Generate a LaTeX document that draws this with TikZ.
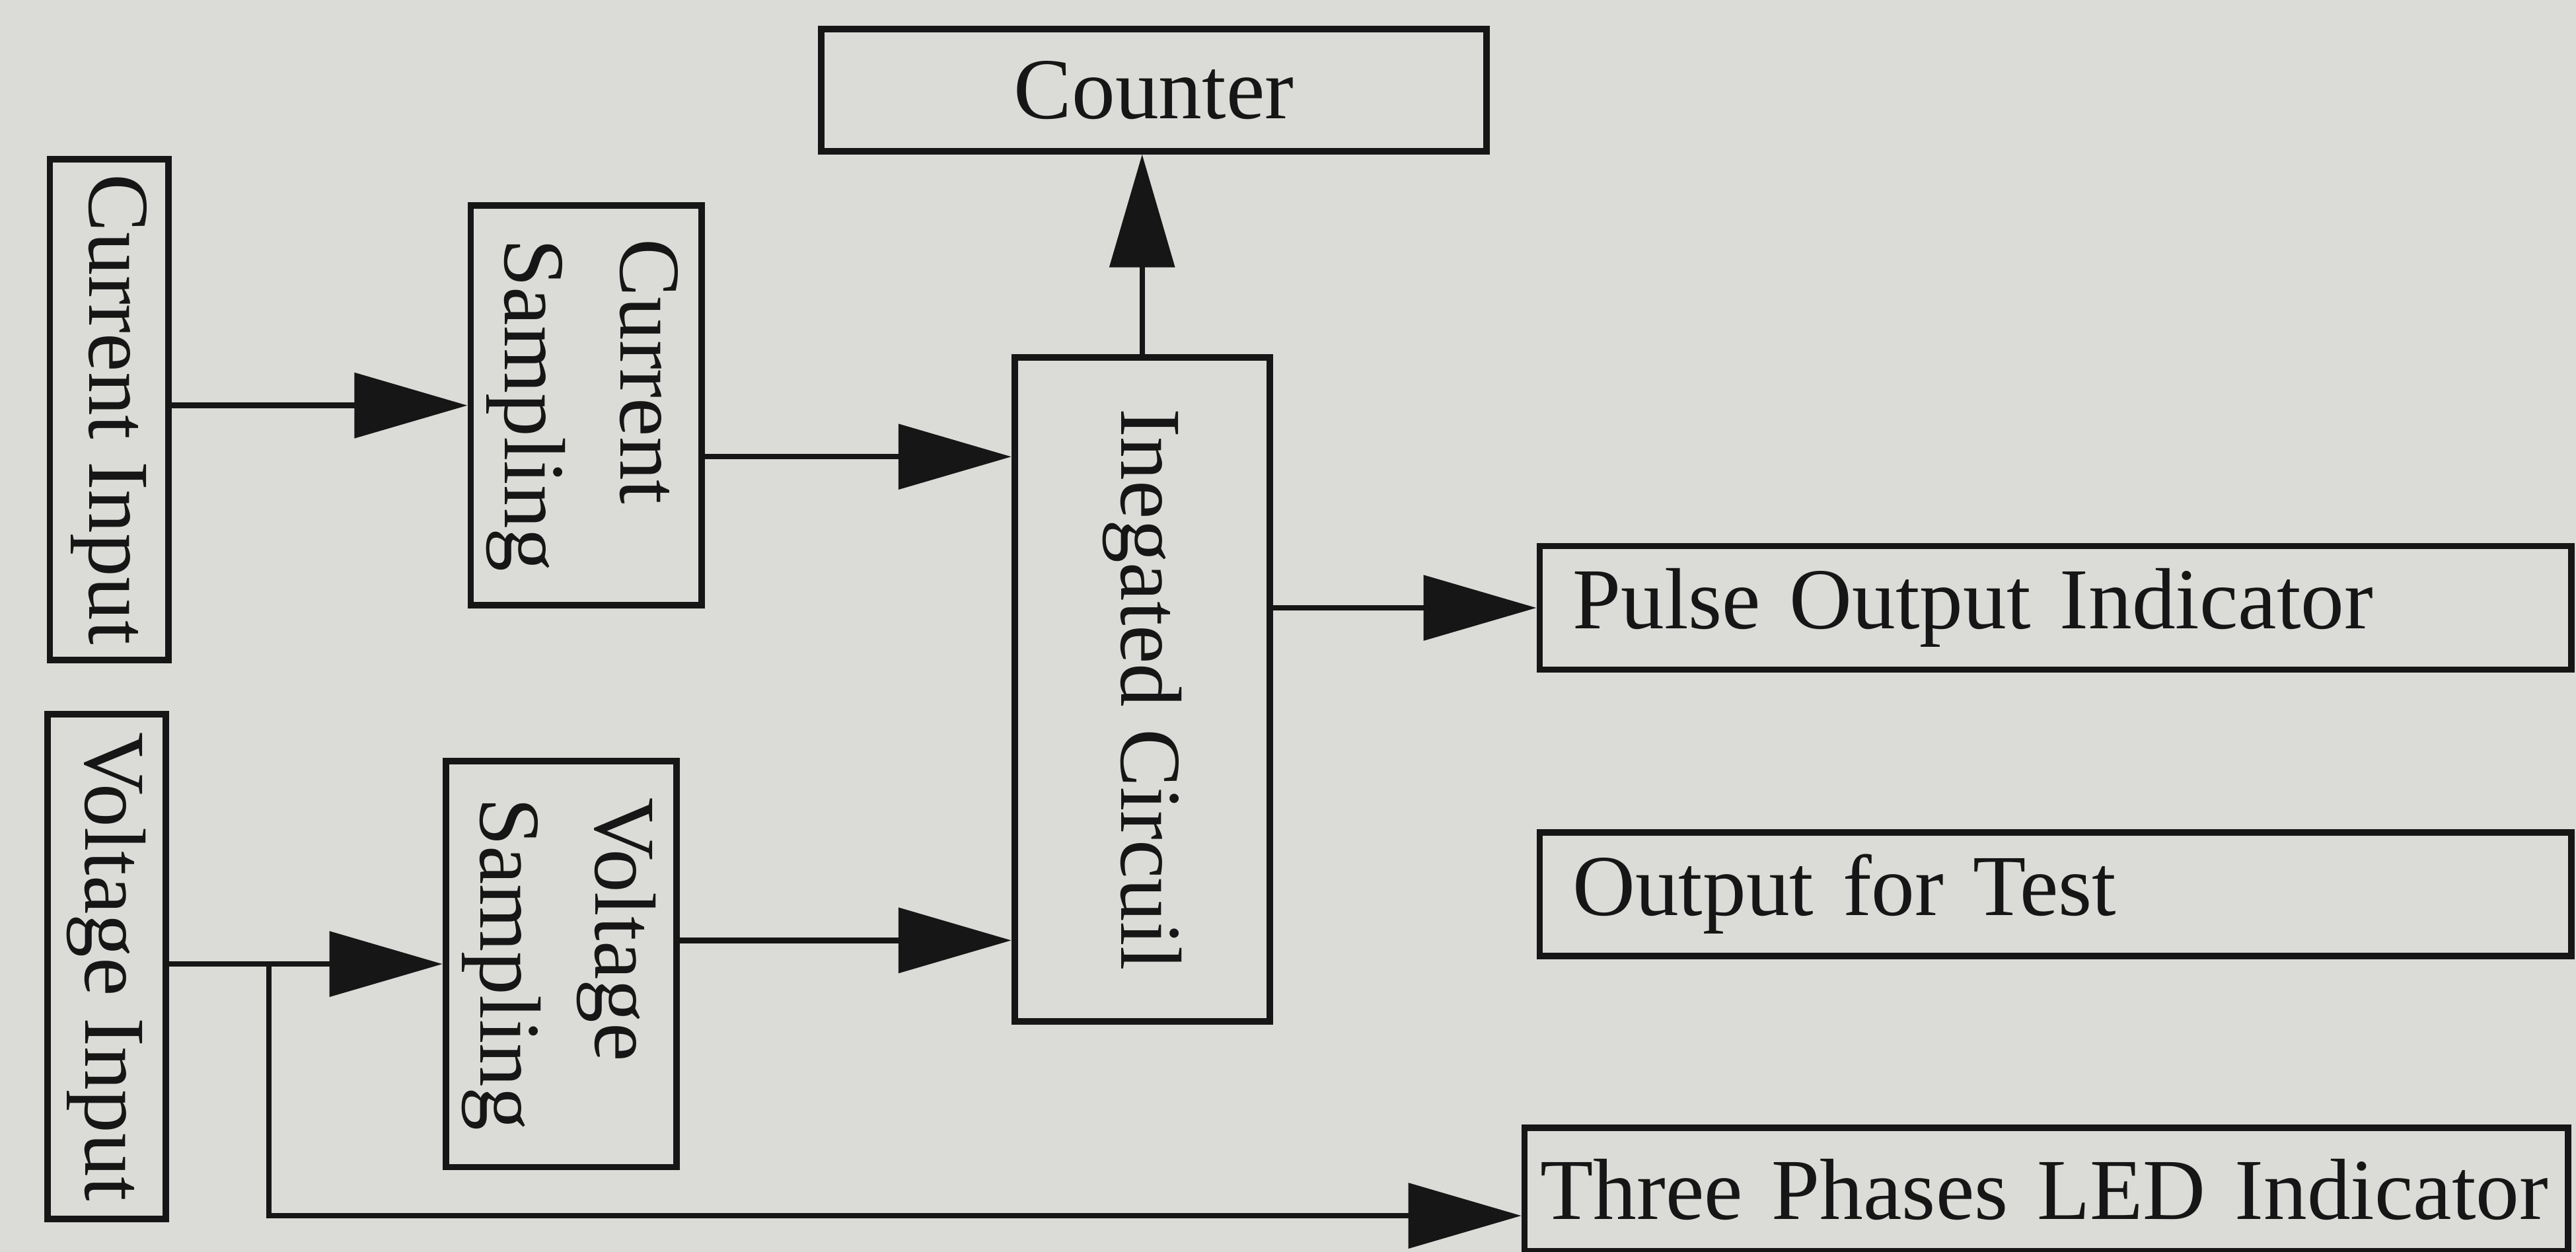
\documentclass[tikz,border=0pt]{standalone}
\usepackage{fontspec}
\setmainfont{Liberation Serif}
\usepackage{graphicx}
\usepackage{tikz}
\usetikzlibrary{arrows.meta,calc}
\definecolor{paper}{RGB}{219,219,216}
\definecolor{ink}{RGB}{22,22,22}
\tikzset{
  blockbox/.style={
    draw=ink,line width=1.4pt,text=ink,inner sep=0pt,align=center,
    font=\fontsize{18.8}{25}\selectfont,
  },
  outbox/.style={
    draw=ink,line width=1.4pt,text=ink,inner xsep=0.25cm,inner ysep=0pt,
    text width=7.35cm,align=left,minimum height=0.94cm,
    font=\fontsize{18.8}{25}\selectfont,
  },
  arr/.style={
    draw=ink,line width=1.2pt,-{Triangle[length=8.6mm,width=4.9mm]},
  },
}

\begin{document}
\begin{tikzpicture}
    \fill[paper] (0,0) rectangle (19.6,9.525);
    \useasboundingbox (0,0) rectangle (19.6,9.525);
    % inputs
    \node[blockbox, minimum width=0.9cm, minimum height=3.81cm] (ci) at (0.83,6.41) {\rotatebox{-90}{Current Input}};
    \node[blockbox, minimum width=0.9cm, minimum height=3.84cm] (vi) at (0.81,2.17) {\rotatebox{-90}{Voltage Input}};
    % sampling
    \node[blockbox, minimum width=1.66cm, minimum height=3.04cm] (cs) at (4.46,6.44) {\rotatebox{-90}{\begin{tabular}{@{}l@{}}Current\\Sampling\end{tabular}}};
    \node[blockbox, minimum width=1.66cm, minimum height=3.09cm] (vs) at (4.27,2.19) {\rotatebox{-90}{\begin{tabular}{@{}l@{}}Voltage\\Sampling\end{tabular}}};
    % middle
    \node[blockbox, minimum width=1.94cm, minimum height=5.05cm] (ic) at (8.69,4.28) {\rotatebox{-90}{Inegated Circuil}};
    \node[blockbox, minimum width=5.06cm, minimum height=0.93cm] (cnt) at (8.78,8.84) {Counter};
    % outputs
    \node[outbox] (po) at (15.64,4.90) {Pulse Output Indicator};
    \node[outbox] (ot) at (15.64,2.72) {Output for Test};
    \node[outbox, inner xsep=0.12cm, text width=7.7cm] (led) at (15.57,0.475) {Three Phases LED Indicator};
    % branch point
    \coordinate (j) at ([xshift=-1.32cm]vs.west);
    % connections
    \draw[arr] (cs.west -| ci.east) -- (cs.west);
    \draw[arr] ([yshift=-3.9mm]cs.east) -- ([yshift=-3.9mm]cs.east -| ic.west);
    \draw[arr] (vs.west -| vi.east) -- (vs.west);
    \draw[arr] ([yshift=1.8mm]vs.east) -- ([yshift=1.8mm]vs.east -| ic.west);
    \draw[arr] (ic.north) -- (ic.north |- cnt.south);
    \draw[arr] (ic.east |- po.west) -- (po.west);
    \draw[arr] (j) |- ([yshift=-2mm]led.west);
\end{tikzpicture}
\end{document}
